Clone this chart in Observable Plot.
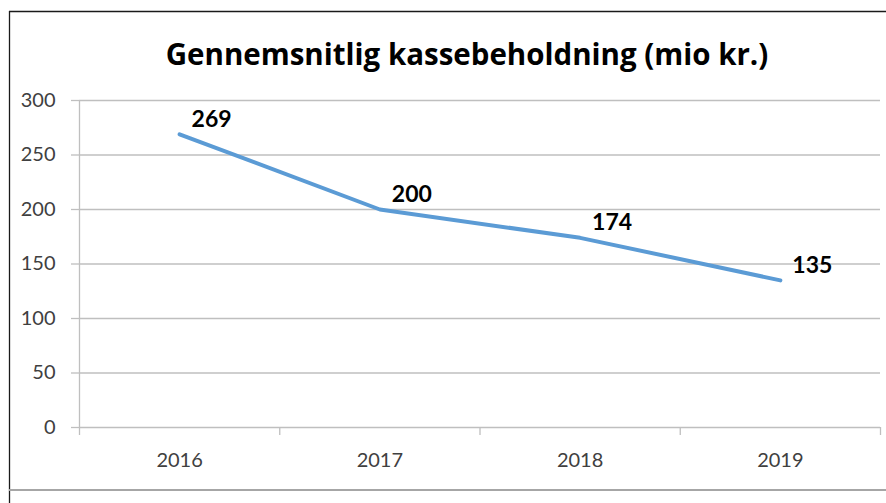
<!DOCTYPE html>
<html>
<head>
<meta charset="utf-8">
<script src="https://cdn.jsdelivr.net/npm/d3@7"></script>
<script src="https://cdn.jsdelivr.net/npm/@observablehq/plot@0.6"></script>
<style>
  html, body { margin: 0; padding: 0; background: #fff; }
  svg { display: block; }
</style>
</head>
<body>
<div id="chart"></div>
<script>
const title = "Gennemsnitlig kassebeholdning (mio kr.)";
const years = [2016, 2017, 2018, 2019];
const values = [269, 200, 174, 135];
const yTicks = [0, 50, 100, 150, 200, 250, 300];

const data = years.map((year, i) => ({year, value: values[i]}));
const boundaries = [years[0] - 0.5, ...years.map(y => y + 0.5)];

const font = "Lato, 'Open Sans', sans-serif";
const gridColor = "#BFBFBF";

const chart = Plot.plot({
  width: 886,
  height: 503,
  marginLeft: 79,
  marginRight: 6,
  marginTop: 100,
  marginBottom: 76,
  style: {fontFamily: font, background: "#fff", overflow: "visible"},
  x: {type: "linear", domain: [years[0] - 0.5, years[years.length - 1] + 0.5]},
  y: {type: "linear", domain: [0, 300]},
  marks: [
    Plot.ruleY(yTicks, {stroke: gridColor, strokeWidth: 1.3}),
    Plot.ruleX([boundaries[0]], {y1: 0, y2: 300, stroke: gridColor, strokeWidth: 1.3}),
    Plot.axisY({ticks: yTicks, tickSize: 8, tickPadding: 16, fontSize: 20, stroke: gridColor, strokeWidth: 1.3, color: "#404040", label: null, strokeOpacity: 1}),
    Plot.ruleX(boundaries, {y1: 0, y2: 0, insetBottom: -8, stroke: gridColor, strokeWidth: 1.3}),
    Plot.axisX({ticks: years, tickSize: 0, tickPadding: 25, fontSize: 20, tickFormat: d => String(d), color: "#404040", label: null}),
    Plot.line(data, {x: "year", y: "value", stroke: "#5B9BD5", strokeWidth: 4}),
    Plot.text(data, {x: "year", y: "value", text: d => String(d.value), dx: 32, dy: -15, fontSize: 23, fontWeight: "bold", fill: "#000", lineAnchor: "middle"}),
    Plot.text([title], {frameAnchor: "top", dx: -13, dy: -45, lineAnchor: "middle", fontSize: 29.5, fontWeight: "bold", fill: "#000", fontFamily: "'Open Sans', sans-serif"})
  ]
});

document.getElementById("chart").appendChild(chart);

// outer chart-area border lines (decorative frame)
const svg = d3.select(chart);
svg.append("line").attr("x1", 9.5).attr("x2", 9.5).attr("y1", 11).attr("y2", 503).attr("stroke", "#1a1a1a").attr("stroke-width", 1.3);
svg.append("line").attr("x1", 9).attr("x2", 886).attr("y1", 11.5).attr("y2", 11.5).attr("stroke", "#1a1a1a").attr("stroke-width", 1.3);
svg.append("line").attr("x1", 9).attr("x2", 886).attr("y1", 490).attr("y2", 490).attr("stroke", "#A6A6A6").attr("stroke-width", 2);
</script>
</body>
</html>
